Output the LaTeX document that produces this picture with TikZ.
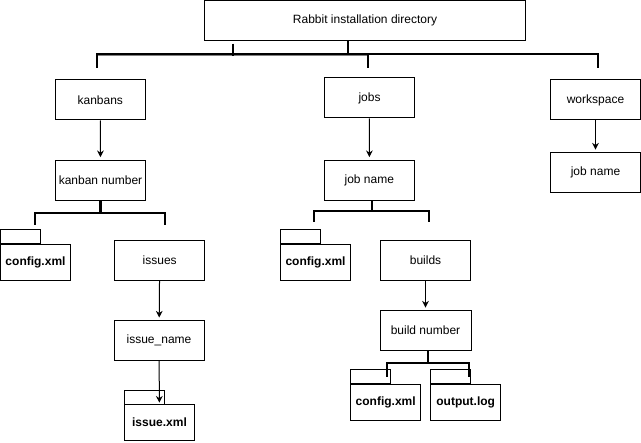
\documentclass[tikz,border=0pt]{standalone}
\usepackage{fontspec}
\setmainfont{Liberation Sans}
\usetikzlibrary{arrows.meta}

\begin{document}
\begin{tikzpicture}[x=0.75pt, y=-0.75pt,
      every node/.style={font=\fontsize{9}{11}\selectfont},
      laatikko/.style={draw, line width=0.75pt, minimum width=67.5pt,
      minimum height=30pt, inner sep=0pt},
      kansio/.style={draw, line width=0.75pt, minimum width=52.5pt,
      minimum height=27pt, inner sep=0pt,
      font=\fontsize{9}{11}\selectfont\bfseries},
      runko/.style={line width=1.6pt, draw=black},
      osoitin/.style={line width=0.75pt, -{Stealth[length=5pt, width=5pt]},
      shorten >=2pt}]

      \useasboundingbox (0,0) rectangle (641,442);

      % Laatikot
      \node [laatikko, minimum width=240.75pt] (juuri) at (365,20.3)
      {Rabbit installation directory};
      \node [laatikko] (kanbans) at (100.3,100) {kanbans};
      \node [laatikko] (jobs) at (369.5,98) {jobs};
      \node [laatikko] (workspace) at (595.5,100) {workspace};
      \node [laatikko] (kanbannro) at (100.5,180.3) {kanban number};
      \node [laatikko] (jobnimi) at (369.3,180.3) {job name};
      \node [laatikko] (wsjobnimi) at (595.5,172.7) {job name};
      \node [laatikko] (issues) at (159.7,260) {issues};
      \node [laatikko] (builds) at (425.5,260) {builds};
      \node [laatikko] (issuenimi) at (159,340.7) {issue\_name};
      \node [laatikko, minimum width=68.25pt] (buildnro) at (425.5,330.7)
      {build number};

      % Kansiot ja niiden välilehdet
      \node [kansio] (kconfig) at (35.5,262) {config.xml};
      \node [kansio] (jconfig) at (315.5,262) {config.xml};
      \node [kansio] (issuexml) at (159.5,422.5) {issue.xml};
      \node [kansio] (bconfig) at (385.7,402) {config.xml};
      \node [kansio] (outputlog) at (465.7,402) {output.log};
      \foreach \k in {kconfig, jconfig, issuexml, bconfig, outputlog}
        \draw [line width=0.75pt] (\k.north west) rectangle ++(30pt,10.5pt);

      % Rungon vapaat päät
      \coordinate (kanbans-p) at (97.3,67.7);
      \coordinate (jobs-p) at (368.3,67.7);
      \coordinate (workspace-p) at (598,67.7);
      \coordinate (kconfig-p) at (35,225);
      \coordinate (issues-p) at (165,225);
      \coordinate (jconfig-p) at (313.7,222);
      \coordinate (builds-p) at (429.3,222);
      \coordinate (bconfig-p) at (387.3,377.3);
      \coordinate (outputlog-p) at (469,377.3);

      % Rungot
      \draw [line width=1pt, draw=gray] ([yshift=9.15pt]kanbans-p)
      -- ([yshift=9.15pt]jobs-p);
      \draw [runko] ([xshift=-12.75pt]juuri.south) -- ++(0,13) -| (kanbans-p);
      \draw [runko] ([xshift=-12.75pt]juuri.south) -- ++(0,13) -| (jobs-p);
      \draw [runko] ([xshift=-12.75pt]juuri.south) -- ++(0,13) -| (workspace-p);
      \draw [runko] ([shift={(-99pt,-2.2pt)}]juuri.south) -- ++(0,12);
      \draw [runko] (kanbannro.south) -- ++(0,12) -| (kconfig-p);
      \draw [runko] (kanbannro.south) -- ++(0,12) -| (issues-p);
      \draw [runko] ([xshift=1.8pt]jobnimi.south) -- ++(0,10) -| (jconfig-p);
      \draw [runko] ([xshift=1.8pt]jobnimi.south) -- ++(0,10) -| (builds-p);
      \draw [runko] ([xshift=1.65pt]buildnro.south) -- ++(0,11.6) -| (bconfig-p);
      \draw [runko] ([xshift=1.65pt]buildnro.south) -- ++(0,11.6) -| (outputlog-p);

      % Nuolet
      \draw [osoitin] (kanbans) -- (kanbannro);
      \draw [osoitin] (jobs) -- (jobnimi);
      \draw [osoitin] (workspace) -- (wsjobnimi);
      \draw [osoitin] (issues) -- (issuenimi);
      \draw [osoitin] (builds) -- (buildnro);
      \draw [osoitin, shorten >=1pt] (issuenimi) -- (issuexml);
    \end{tikzpicture}
\end{document}
